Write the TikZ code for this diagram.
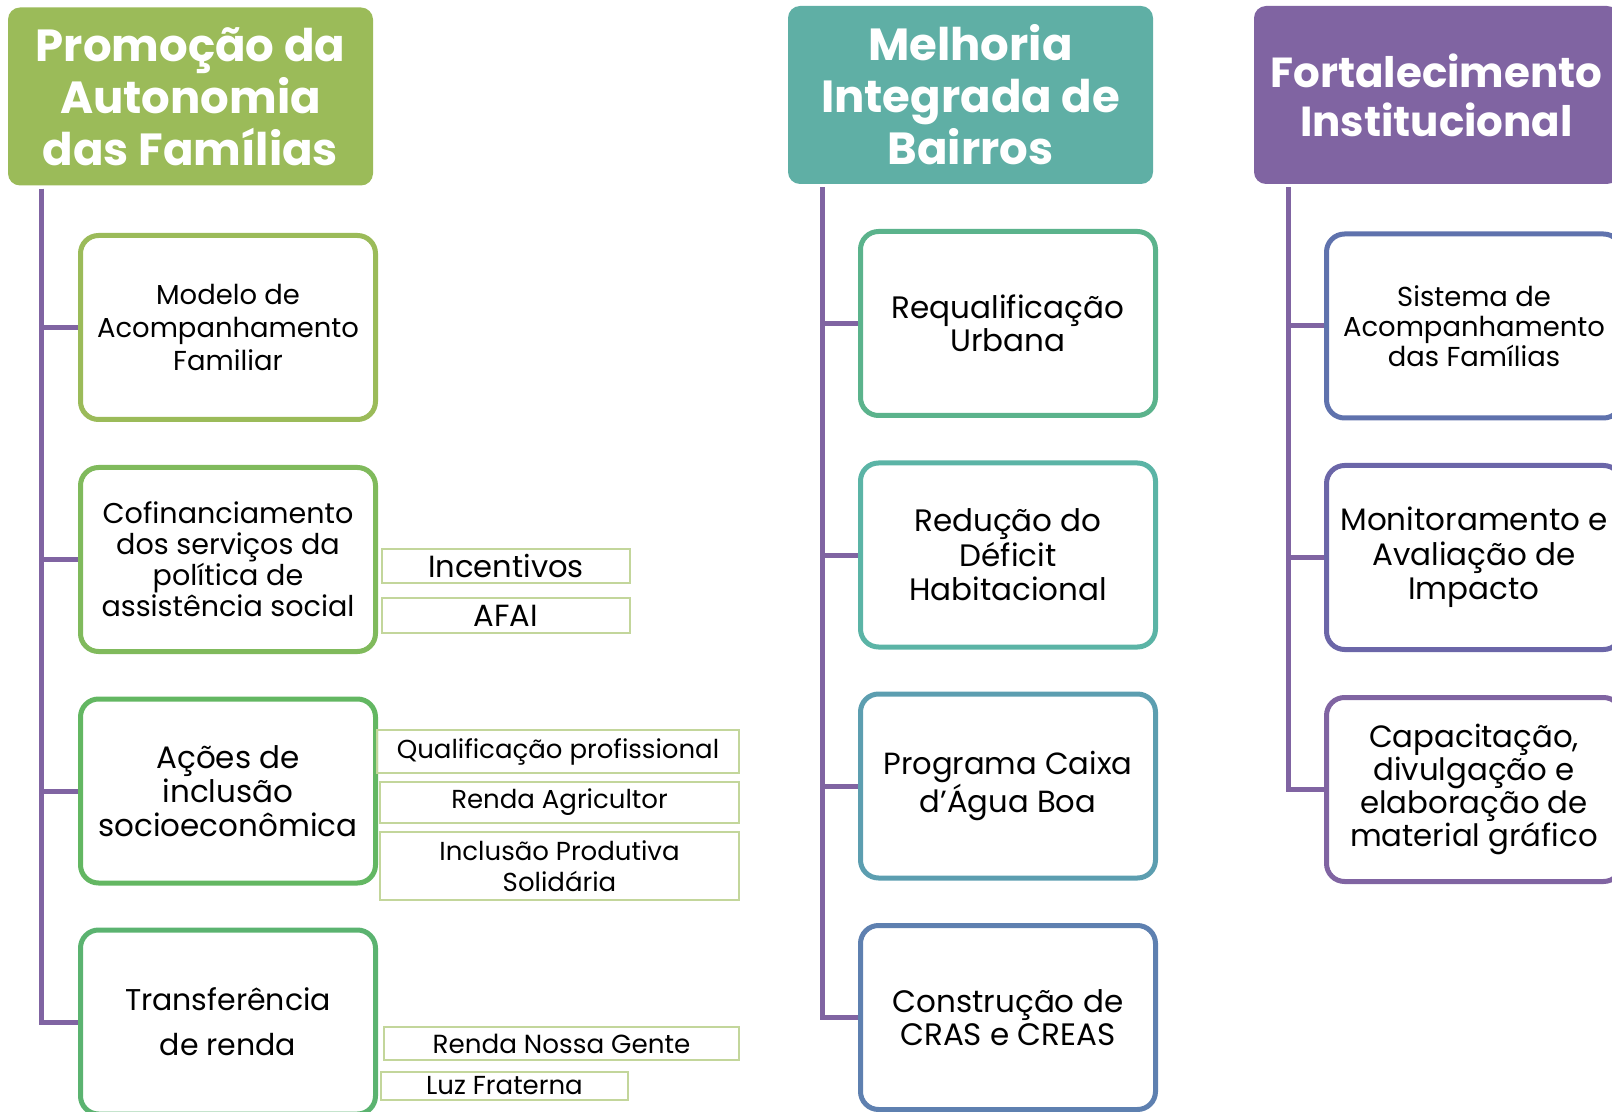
\documentclass[tikz,border=0pt]{standalone}
\usepackage{fontspec}
\setmainfont{Poppins}
\definecolor{hgreen}{HTML}{9BBB59}
\definecolor{hteal}{HTML}{5FAFA5}
\definecolor{hpurple}{HTML}{8064A2}
\definecolor{greenA}{HTML}{9BBB59}
\definecolor{greenB}{HTML}{80BA5C}
\definecolor{greenC}{HTML}{63B762}
\definecolor{greenD}{HTML}{5BB370}
\definecolor{tealA}{HTML}{5BB38C}
\definecolor{tealB}{HTML}{5BB4A6}
\definecolor{tealC}{HTML}{5C9EB0}
\definecolor{tealD}{HTML}{5E80B0}
\definecolor{blueA}{HTML}{5F72AD}
\definecolor{blueB}{HTML}{6B66A8}
\definecolor{blueC}{HTML}{8064A2}
\definecolor{subgreen}{HTML}{C3D69B}
\begin{document}
\begin{tikzpicture}[x=0.5pt, y=-0.5pt,
	head/.style={rectangle, rounded corners=6pt, fill=#1, text=white, font=\fontsize{22.5}{26}\selectfont\bfseries, align=center, minimum width=182.5pt, minimum height=89pt, inner sep=0pt},
	item/.style={rectangle, rounded corners=9pt, draw=#1, line width=2.5pt, align=center, minimum width=147.5pt, minimum height=92pt, inner sep=0pt, font=\fontsize{13.7}{16.5}\selectfont},
	sub/.style={rectangle, draw=subgreen, line width=0.9pt, align=center, inner sep=0pt, font=\fontsize{13}{15.5}\selectfont},
	trunk/.style={draw=hpurple, line width=2.5pt}]

	\useasboundingbox (0,0) rectangle (1612,1112);

	\node[head=hgreen] (hd1) at (190.5,96.5) {Promoção da\\Autonomia\\das Famílias};
	\node[head=hteal] (hd2) at (970.5,95) {Melhoria\\Integrada de\\Bairros};
	\node[head=hpurple, font=\fontsize{21}{24.5}\selectfont\bfseries] (hd3) at (1436.5,95) {Fortalecimento\\Institucional};

	\node[item=greenA] (a1) at (228,327.5) {Modelo de\\Acompanhamento\\Familiar};
	\node[item=greenB, font=\fontsize{14.3}{15.5}\selectfont] (a2) at (228,559.5) {Cofinanciamento\\dos serviços da\\política de\\assistência social};
	\node[item=greenC, font=\fontsize{15.5}{17}\selectfont] (a3) at (228,791) {Ações de\\inclusão\\socioeconômica};
	\node[item=greenD, font=\fontsize{15}{22.5}\selectfont] (a4) at (228,1022) {Transferência\\de renda};

	\node[item=tealA, font=\fontsize{15.5}{16.5}\selectfont] (b1) at (1008,323.5) {Requalificação\\Urbana};
	\node[item=tealB, font=\fontsize{15.5}{17.25}\selectfont] (b2) at (1008,555) {Redução do\\Déficit\\Habitacional};
	\node[item=tealC, font=\fontsize{15.3}{17.5}\selectfont] (b3) at (1008,786) {Programa Caixa\\d’Água Boa};
	\node[item=tealD, font=\fontsize{15.5}{16.5}\selectfont] (b4) at (1008,1017.5) {Construção de\\CRAS e CREAS};

	\node[item=blueA, font=\fontsize{13.7}{15}\selectfont] (c1) at (1474,326) {Sistema de\\Acompanhamento\\das Famílias};
	\node[item=blueB, font=\fontsize{15.5}{17.25}\selectfont] (c2) at (1474,557.5) {Monitoramento e\\Avaliação de\\Impacto};
	\node[item=blueC, font=\fontsize{15.4}{16.5}\selectfont] (c3) at (1474,789.5) {Capacitação,\\divulgação e\\elaboração de\\material gráfico};

	\node[sub, minimum width=124pt, minimum height=17pt, font=\fontsize{15.3}{18}\selectfont] (s1) at (506,566) {Incentivos};
	\node[sub, minimum width=124pt, minimum height=17.5pt, font=\fontsize{15.3}{18}\selectfont] (s2) at (506,615.5) {AFAI};
	\node[sub, minimum width=181pt, minimum height=21.5pt] (s3) at (558,751.5) {Qualificação profissional};
	\node[sub, minimum width=179.5pt, minimum height=20.5pt] (s4) at (559.5,802.5) {Renda Agricultor};
	\node[sub, minimum width=179.5pt, minimum height=34pt] (s5) at (559.5,866) {Inclusão Produtiva\\Solidária};
	\node[sub, minimum width=177.5pt, minimum height=16.5pt, font=\fontsize{13.1}{15}\selectfont] (s6) at (561.5,1043.5) {Renda Nossa Gente};
	\node[sub, minimum width=123.5pt, minimum height=14pt, font=\fontsize{13}{15}\selectfont] (s7) at (504.5,1086) {Luz Fraterna};

	\coordinate (t1) at ([xshift=17pt,yshift=-1.5pt]hd1.south west);
	\coordinate (t2) at ([xshift=17.5pt,yshift=-1.5pt]hd2.south west);
	\coordinate (t3) at ([xshift=17.5pt,yshift=-1.5pt]hd3.south west);

	\draw[trunk] (t1) |- (a1.west);
	\draw[trunk] (t1) |- (a2.west);
	\draw[trunk] (t1) |- (a3.west);
	\draw[trunk] (t1) |- (a4.west);
	\draw[trunk] (t2) |- (b1.west);
	\draw[trunk] (t2) |- (b2.west);
	\draw[trunk] (t2) |- (b3.west);
	\draw[trunk] (t2) |- (b4.west);
	\draw[trunk] (t3) |- (c1.west);
	\draw[trunk] (t3) |- (c2.west);
	\draw[trunk] (t3) |- (c3.west);
\end{tikzpicture}
\end{document}
